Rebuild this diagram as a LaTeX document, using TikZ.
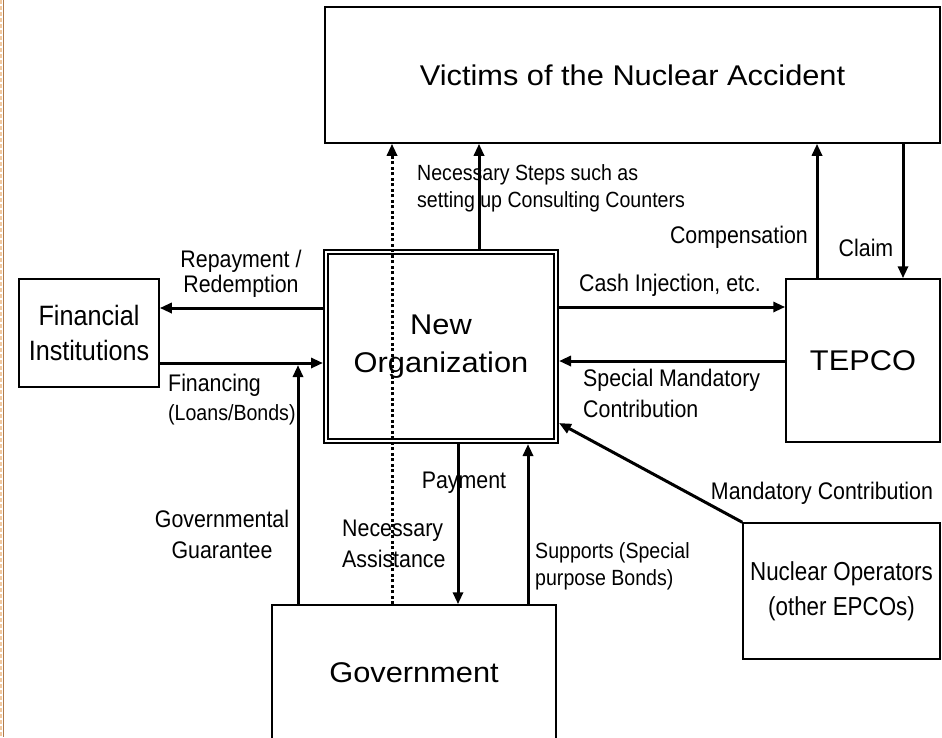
\documentclass[tikz,border=0pt]{standalone}
\usepackage{fontspec}
\setmainfont{Liberation Sans}
\newfontfamily\widefont{Liberation Sans}[FakeStretch=1.08]
\newfontfamily\slimfont{Liberation Sans}[FakeStretch=0.9]
\newfontfamily\slimmerfont{Liberation Sans}[FakeStretch=0.86]
\newfontfamily\lblfont{Liberation Sans}[FakeStretch=0.89]
\usepackage{tikz}
\usetikzlibrary{arrows.meta}
\definecolor{edgepeach}{HTML}{F2C9A0}
\definecolor{edgebrown}{HTML}{B07A4A}

\begin{document}
\begin{tikzpicture}[x=1pt,y=-1pt,
		box/.style={draw,line width=1.5pt,align=center,inner sep=0pt},
		big/.style={box,font=\widefont\fontsize{28.5}{38}\selectfont},
		slim/.style={box,font=\slimfont\fontsize{28}{35}\selectfont},
		lbl/.style={font=\lblfont\fontsize{24}{31}\selectfont,inner sep=0pt},
		small/.style={font=\lblfont\fontsize{22}{27}\selectfont,inner sep=0pt},
		e/.style={-{Triangle[length=12pt,width=10pt]},line width=3pt}
		]
		\useasboundingbox (0,0) rectangle (942,737);
		\clip (0,0) rectangle (942,737);
		% page edge on the left
		\draw[edgepeach,line width=2pt,dash pattern=on 4pt off 2pt] (1,0) -- (1,737);
		\draw[edgebrown,line width=0.8pt] (3.2,0) -- (3.2,737);

		\node[big,minimum width=615pt,minimum height=136pt] (vict) at (632.5,75) {Victims of the Nuclear Accident};
		\node[slim,minimum width=140pt,minimum height=108pt] (fin) at (89,333) {Financial\\Institutions};
		\node[big,double,double distance=2.2pt,line width=1.8pt,outer sep=3pt,minimum width=230pt,minimum height=189pt] (neworg) at (441,346.5) {New\\Organization};
		\node[big,minimum width=154pt,minimum height=163pt] (tepco) at (863,360.5) {TEPCO};
		\node[slim,font=\slimmerfont\fontsize{26}{35}\selectfont,minimum width=197pt,minimum height=136pt] (nuc) at (841.5,591) {Nuclear Operators\\(other EPCOs)};
		\node[big,minimum width=284pt,minimum height=136pt] (gov) at (414,673) {Government};

		% labels
		\node[lbl,align=center,font=\lblfont\fontsize{24}{25}\selectfont] (lrepay) at (241,273.5) {Repayment /\\Redemption};
		\node[lbl,anchor=west] (lfinance) at (168,385) {Financing};
		\node[small,anchor=west] (lloans) at (168,415) {(Loans/Bonds)};
		\node[lbl,align=center] (lguar) at (222,534) {Governmental\\Guarantee};
		\node[small,align=left,anchor=west] (lsteps) at (417,188.5) {Necessary Steps such as\\setting up Consulting Counters};
		\node[lbl,anchor=east] (lcomp) at (808,237) {Compensation};
		\node[lbl] (lclaim) at (866,248) {Claim};
		\node[lbl] (lcash) at (670,285) {Cash Injection, etc.};
		\node[lbl,align=left,anchor=west] (lspecial) at (583,393) {Special Mandatory\\Contribution};
		\node[lbl] (lmand) at (822,493) {Mandatory Contribution};
		\node[lbl] (lpay) at (464,483) {Payment};
		\node[lbl,align=left,anchor=west] (lassist) at (342,544) {Necessary\\Assistance};
		\node[small,align=left,anchor=west] (lsupp) at (535,566) {Supports (Special\\purpose Bonds)};

		% flows
		\coordinate (guar) at (298,365);
		\draw[e] (neworg.north -| 479,0) -- (vict.south -| 479,0);
		\draw[e,dash pattern=on 3pt off 2.5pt] (gov.north -| 392,0) -- (vict.south -| 392,0);
		\draw[e] (tepco.north -| 817,0) -- (vict.south -| 817,0);
		\draw[e] (vict.south -| 903,0) -- (tepco.north -| 903,0);
		\draw[e] (neworg.west |- 0,308) -- (fin.east |- 0,308);
		\draw[e] (fin.east |- 0,363) -- (neworg.west |- 0,363);
		\draw[e] (gov.north -| guar) -- (guar);
		\draw[e] (neworg.east |- 0,307) -- (tepco.west |- 0,307);
		\draw[e] (tepco.west |- 0,361) -- (neworg.east |- 0,361);
		\draw[e] (nuc.north west) -- (neworg.east |- 0,423);
		\draw[e] (neworg.south -| 458,0) -- (gov.north -| 458,0);
		\draw[e] (gov.north -| 528,0) -- (neworg.south -| 528,0);
	\end{tikzpicture}
\end{document}
